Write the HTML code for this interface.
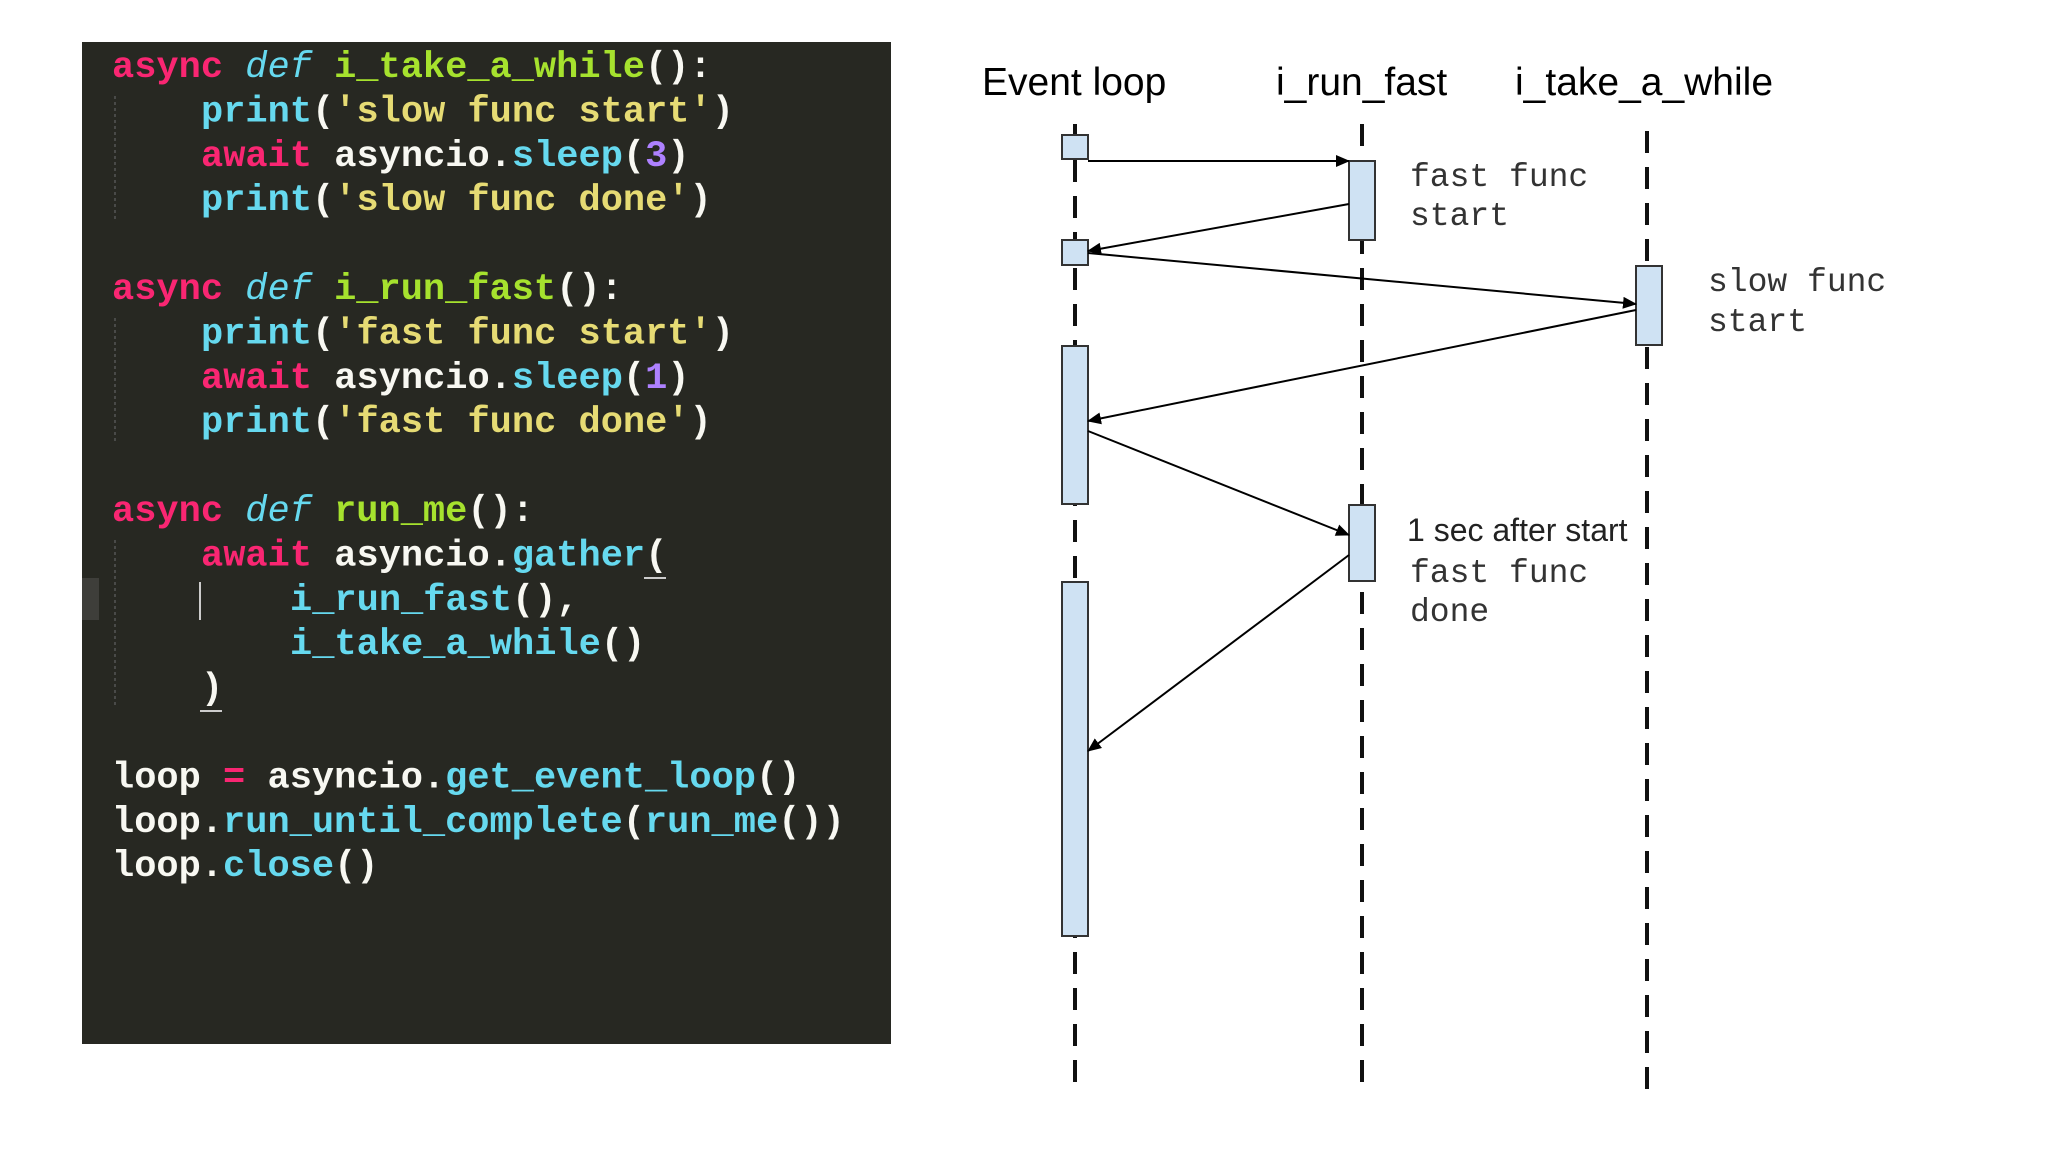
<!DOCTYPE html>
<html><head><meta charset="utf-8"><style>
html,body{margin:0;padding:0;background:#fff;}
svg{display:block}
.c{font-family:"Liberation Mono",monospace;font-size:37px;font-weight:bold;}
.k{fill:#f92672}.d{fill:#66d9ef;font-style:italic;font-weight:normal}.g{fill:#a6e22e}.w{fill:#f8f8f2}.b{fill:#66d9ef}.y{fill:#e6db74}.p{fill:#ae81ff}
.h{font-family:"Liberation Sans",sans-serif;font-size:39px;fill:#000}
.m{font-family:"Liberation Mono",monospace;font-size:33px;fill:#333}
.s{font-family:"Liberation Sans",sans-serif;font-size:32px;fill:#222}
</style></head><body>
<svg width="2048" height="1152" viewBox="0 0 2048 1152" xmlns="http://www.w3.org/2000/svg">
<rect x="82" y="42" width="809" height="1002" fill="#272822"/>
<rect x="82" y="578" width="17" height="42" fill="#3e3e3a"/>
<g stroke="#555" stroke-width="1.5" stroke-dasharray="3 3">
<line x1="115" y1="96" x2="115" y2="220"/>
<line x1="115" y1="318" x2="115" y2="442"/>
<line x1="115" y1="540" x2="115" y2="705"/>
</g>
<line x1="200" y1="582" x2="200" y2="620" stroke="#ccc" stroke-width="2"/>
<line x1="644" y1="578" x2="666" y2="578" stroke="#ccc" stroke-width="2"/>
<line x1="200" y1="711" x2="222" y2="711" stroke="#ccc" stroke-width="2"/>
<g class="c">
<text x="112" y="77"><tspan class="k">async</tspan> <tspan class="d">def</tspan> <tspan class="g">i_take_a_while</tspan><tspan class="w">():</tspan></text>
<text x="201" y="121.4"><tspan class="b">print</tspan><tspan class="w">(</tspan><tspan class="y">'slow func start'</tspan><tspan class="w">)</tspan></text>
<text x="201" y="165.8"><tspan class="k">await</tspan> <tspan class="w">asyncio.</tspan><tspan class="b">sleep</tspan><tspan class="w">(</tspan><tspan class="p">3</tspan><tspan class="w">)</tspan></text>
<text x="201" y="210.2"><tspan class="b">print</tspan><tspan class="w">(</tspan><tspan class="y">'slow func done'</tspan><tspan class="w">)</tspan></text>
<text x="112" y="299"><tspan class="k">async</tspan> <tspan class="d">def</tspan> <tspan class="g">i_run_fast</tspan><tspan class="w">():</tspan></text>
<text x="201" y="343.4"><tspan class="b">print</tspan><tspan class="w">(</tspan><tspan class="y">'fast func start'</tspan><tspan class="w">)</tspan></text>
<text x="201" y="387.8"><tspan class="k">await</tspan> <tspan class="w">asyncio.</tspan><tspan class="b">sleep</tspan><tspan class="w">(</tspan><tspan class="p">1</tspan><tspan class="w">)</tspan></text>
<text x="201" y="432.2"><tspan class="b">print</tspan><tspan class="w">(</tspan><tspan class="y">'fast func done'</tspan><tspan class="w">)</tspan></text>
<text x="112" y="521"><tspan class="k">async</tspan> <tspan class="d">def</tspan> <tspan class="g">run_me</tspan><tspan class="w">():</tspan></text>
<text x="201" y="565.4"><tspan class="k">await</tspan> <tspan class="w">asyncio.</tspan><tspan class="b">gather</tspan><tspan class="w">(</tspan></text>
<text x="290" y="609.8"><tspan class="b">i_run_fast</tspan><tspan class="w">(),</tspan></text>
<text x="290" y="654.2"><tspan class="b">i_take_a_while</tspan><tspan class="w">()</tspan></text>
<text x="201" y="698.6"><tspan class="w">)</tspan></text>
<text x="112" y="787.4"><tspan class="w">loop</tspan> <tspan class="k">=</tspan> <tspan class="w">asyncio.</tspan><tspan class="b">get_event_loop</tspan><tspan class="w">()</tspan></text>
<text x="112" y="831.8"><tspan class="w">loop.</tspan><tspan class="b">run_until_complete</tspan><tspan class="w">(</tspan><tspan class="b">run_me</tspan><tspan class="w">())</tspan></text>
<text x="112" y="876.2"><tspan class="w">loop.</tspan><tspan class="b">close</tspan><tspan class="w">()</tspan></text>
</g>
<text class="h" x="982" y="95">Event loop</text>
<text class="h" x="1276" y="95">i_run_fast</text>
<text class="h" x="1515" y="95">i_take_a_while</text>
<g stroke="#111" stroke-width="4" stroke-dasharray="22 14">
<line x1="1075" y1="124" x2="1075" y2="1090"/>
<line x1="1362" y1="124" x2="1362" y2="1090"/>
<line x1="1647" y1="131" x2="1647" y2="1100"/>
</g>
<g fill="#cfe2f3" stroke="#333" stroke-width="2">
<rect x="1062" y="135" width="26" height="24"/>
<rect x="1062" y="240" width="26" height="25"/>
<rect x="1062" y="346" width="26" height="158"/>
<rect x="1062" y="582" width="26" height="354"/>
<rect x="1349" y="161" width="26" height="79"/>
<rect x="1349" y="505" width="26" height="76"/>
<rect x="1636" y="266" width="26" height="79"/>
</g>
<defs><marker id="a" markerWidth="14" markerHeight="12" refX="13" refY="6" orient="auto" markerUnits="userSpaceOnUse"><path d="M0,0 L14,6 L0,12 z" fill="#000"/></marker></defs>
<g stroke="#000" stroke-width="2" marker-end="url(#a)">
<line x1="1088" y1="161" x2="1349" y2="161"/>
<line x1="1349" y1="204" x2="1088" y2="251"/>
<line x1="1088" y1="253" x2="1636" y2="304"/>
<line x1="1636" y1="310" x2="1088" y2="421"/>
<line x1="1088" y1="431" x2="1349" y2="535"/>
<line x1="1349" y1="555" x2="1088" y2="751"/>
</g>
<text class="m" x="1410" y="186">fast func</text>
<text class="m" x="1410" y="225">start</text>
<text class="m" x="1708" y="291">slow func</text>
<text class="m" x="1708" y="331">start</text>
<text class="s" x="1407" y="541">1 sec after start</text>
<text class="m" x="1410" y="582">fast func</text>
<text class="m" x="1410" y="621">done</text>
</svg>
</body></html>
